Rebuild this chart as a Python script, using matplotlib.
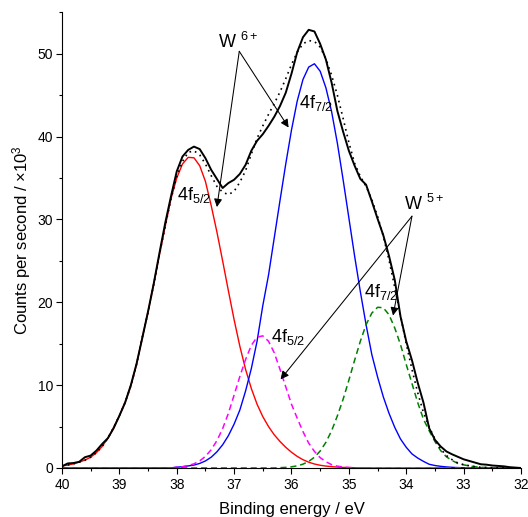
import numpy as np
import matplotlib
matplotlib.use('Agg')
import matplotlib.pyplot as plt
from matplotlib.ticker import MultipleLocator

plt.rcParams['font.family'] = ['Liberation Sans', 'DejaVu Sans']
plt.rcParams['mathtext.fontset'] = 'custom'
plt.rcParams['mathtext.rm'] = 'Liberation Sans'
plt.rcParams['mathtext.it'] = 'Liberation Sans:italic'
plt.rcParams['mathtext.bf'] = 'Liberation Sans:bold'
plt.rcParams['mathtext.default'] = 'regular'

# binding energy grid, 40.0 -> 32.0 eV in 0.1 eV steps
energy = np.linspace(40, 32, 81)

# measured counts (x10^3)
counts = [0.2, 0.55, 0.6, 0.75, 1.3, 1.5, 2.1, 2.9, 3.6, 4.8,
          6.3, 7.9, 10.0, 12.6, 15.7, 18.9, 22.3, 26.0, 29.6, 32.8,
          35.8, 37.6, 38.4, 38.8, 38.5, 37.4, 36.0, 34.9, 33.8, 34.4,
          34.8, 35.5, 36.6, 38.3, 39.5, 40.3, 41.3, 42.4, 43.7, 45.3,
          47.6, 50.2, 52.0, 52.9, 52.7, 51.2, 49.3, 46.5, 43.1, 40.6,
          38.3, 36.5, 34.9, 34.2, 32.2, 30.1, 28.1, 25.6, 22.7, 18.3,
          15.3, 13.0, 10.3, 7.9, 4.8, 3.4, 2.6, 2.0, 1.65, 1.35,
          1.05, 0.85, 0.65, 0.45, 0.4, 0.3, 0.25, 0.2, 0.1, 0.05, 0.0]

# fit envelope
fit_sum = [0.25, 0.35, 0.5, 0.7, 0.95, 1.3, 1.85, 2.6, 3.6, 4.9,
           6.3, 7.9, 9.9, 12.5, 15.8, 18.8, 22.2, 25.8, 29.2, 32.5,
           35.2, 37.0, 38.1, 38.3, 37.8, 36.7, 35.3, 34.0, 33.3, 33.0,
           33.4, 34.5, 35.9, 37.9, 39.8, 41.3, 42.7, 44.0, 45.4, 47.0,
           48.7, 50.2, 51.2, 51.6, 51.5, 50.8, 49.4, 47.4, 45.0, 42.2,
           39.3, 36.8, 35.2, 34.0, 32.4, 30.4, 28.0, 25.1, 21.8, 18.4,
           15.0, 11.9, 9.1, 6.7, 4.95, 3.5, 2.3, 1.5, 1.0, 0.6,
           0.4, 0.27, 0.16, 0.09, 0.05, 0.03, 0.02, 0.01, 0.01, 0.0, 0.0]

# W6+ 4f5/2
w6_52 = [0.25, 0.35, 0.5, 0.7, 0.95, 1.3, 1.85, 2.6, 3.6, 4.9,
         6.3, 7.9, 9.9, 12.5, 15.8, 18.8, 22.2, 25.8, 29.2, 32.5,
         35.0, 36.7, 37.5, 37.45, 36.5, 34.6, 31.7, 28.5, 25.0, 21.4,
         17.9, 14.7, 11.9, 9.6, 7.7, 6.2, 5.0, 4.0, 3.2, 2.5,
         1.9, 1.4, 1.0, 0.7, 0.48, 0.33, 0.23, 0.16, 0.11, 0.07,
         0.05, 0.03, 0.02, 0.01] + [0.0] * 27

# W6+ 4f7/2
w6_72 = [0.0] * 20 + [
         0.1, 0.15, 0.25, 0.35, 0.55, 0.85, 1.3, 1.95, 2.8, 3.9,
         5.3, 7.0, 9.3, 12.0, 15.3, 19.6, 23.3, 27.8, 32.3, 36.7,
         40.8, 44.3, 46.9, 48.4, 48.8, 47.9, 45.9, 43.0, 39.2, 34.8,
         30.2, 25.6, 21.3, 17.3, 13.7, 11.0, 8.6, 6.6, 4.9, 3.5,
         2.5, 1.7, 1.2, 0.8, 0.45, 0.3, 0.2, 0.13, 0.08, 0.05,
         0.03, 0.02, 0.01] + [0.0] * 8

# W5+ 4f5/2
w5_52 = [0.0] * 20 + [
         0.1, 0.15, 0.3, 0.5, 0.85, 1.4, 2.2, 3.3, 4.75, 6.6,
         8.8, 11.05, 13.1, 14.8, 15.8, 15.95, 15.3, 13.9, 11.9, 9.8,
         7.7, 6.0, 4.4, 3.0, 2.0, 1.25, 0.75, 0.4, 0.22, 0.12,
         0.06, 0.03, 0.01] + [0.0] * 28

# W5+ 4f7/2
w5_72 = [0.0] * 38 + [
         0.04, 0.07, 0.14, 0.26, 0.46, 0.79, 1.3, 2.05, 3.1, 4.5,
         6.3, 8.3, 10.6, 13.0, 15.3, 17.3, 18.7, 19.4, 19.35, 18.5,
         16.9, 14.9, 12.5, 10.2, 7.9, 5.9, 4.5, 3.2, 2.1, 1.35,
         0.9, 0.55, 0.38, 0.25, 0.15, 0.09, 0.05, 0.03, 0.02, 0.01,
         0.01, 0.0, 0.0]

fig = plt.figure(figsize=(5.28, 5.17), dpi=100)
ax = fig.add_axes([0.1174, 0.0948, 0.8693, 0.8812])

ax.plot(energy, w6_52, color='#ff0000', lw=1.0)
ax.plot(energy, w6_72, color='#0000ff', lw=1.0)
ax.plot(energy, w5_52, color='#ff00ff', lw=1.1, dashes=(4, 2.5))
ax.plot(energy, w5_72, color='#008000', lw=1.1, dashes=(4, 2.5))
ax.plot(energy, fit_sum, color='k', lw=1.2, linestyle=(0, (1, 2.5)))
ax.plot(energy, counts, color='k', lw=1.4)

ax.set_xlim(40, 32)
ax.set_ylim(0, 55)
ax.xaxis.set_major_locator(MultipleLocator(1))
ax.xaxis.set_minor_locator(MultipleLocator(0.5))
ax.yaxis.set_major_locator(MultipleLocator(10))
ax.yaxis.set_minor_locator(MultipleLocator(5))
ax.spines['top'].set_visible(False)
ax.spines['right'].set_visible(False)
ax.tick_params(which='major', direction='out', length=4.3, width=0.8, labelsize=10, pad=2)
ax.tick_params(which='minor', direction='out', length=2.5, width=0.8)
ax.tick_params(axis='x', which='major', pad=3)

ax.set_xlabel('Binding energy / eV', fontsize=12)
ax.set_ylabel('Counts per second / \u00d710$^3$', fontsize=12)
ax.xaxis.set_label_coords(0.5, -0.074)
ax.yaxis.set_label_coords(-0.063, 0.5)

# labels
ax.text(38.0, 32.3, '4f$_{5/2}$', fontsize=13, va='baseline')
ax.text(35.87, 43.5, '4f$_{7/2}$', fontsize=13, va='baseline')
ax.text(36.36, 15.2, '4f$_{5/2}$', fontsize=13, va='baseline')
ax.text(34.74, 20.6, '4f$_{7/2}$', fontsize=13, va='baseline')
ax.text(37.28, 50.7, 'W $^{6+}$', fontsize=13, va='baseline')
ax.text(34.04, 31.1, 'W $^{5+}$', fontsize=13, va='baseline')

arrow = dict(arrowstyle='-|>', color='k', lw=0.75, mutation_scale=12, shrinkA=0, shrinkB=0)
ax.annotate('', xy=(37.30, 31.5), xytext=(36.91, 50.3), arrowprops=arrow)
ax.annotate('', xy=(36.05, 41.1), xytext=(36.91, 50.3), arrowprops=arrow)
ax.annotate('', xy=(36.19, 10.7), xytext=(33.90, 30.4), arrowprops=arrow)
ax.annotate('', xy=(34.23, 18.4), xytext=(33.90, 30.4), arrowprops=arrow)

fig.savefig('out.png', dpi=100)
